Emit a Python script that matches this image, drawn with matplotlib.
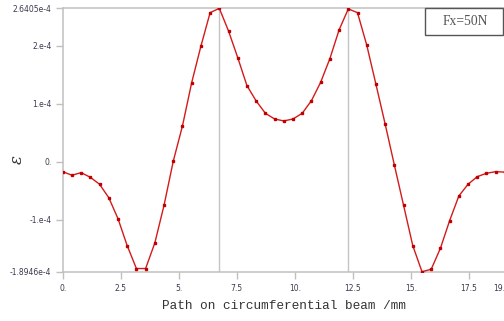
import numpy as np
import matplotlib.pyplot as plt
from matplotlib.patches import Rectangle

# path positions along the circumferential beam (mm)
path_mm = [0.0, 0.397, 0.794, 1.191, 1.588, 1.985, 2.382, 2.779, 3.176, 3.573,
           3.970, 4.367, 4.764, 5.161, 5.558, 5.955, 6.352, 6.749, 7.146, 7.543,
           7.940, 8.337, 8.734, 9.131, 9.528, 9.925, 10.322, 10.719, 11.116, 11.513,
           11.910, 12.307, 12.704, 13.101, 13.498, 13.895, 14.292, 14.689, 15.086, 15.483,
           15.880, 16.277, 16.674, 17.071, 17.468, 17.865, 18.262, 18.659, 19.056]

# strain values (x 1e-4)
strain_e4 = [-0.172, -0.234, -0.189, -0.269, -0.389, -0.620, -0.981, -1.446, -1.840, -1.840,
             -1.400, -0.751, 0.007, 0.615, 1.360, 1.987, 2.565, 2.6405, 2.250, 1.791,
             1.309, 1.045, 0.833, 0.735, 0.701, 0.735, 0.833, 1.050, 1.367, 1.773,
             2.268, 2.630, 2.565, 2.009, 1.333, 0.649, -0.057, -0.751, -1.446, -1.8946,
             -1.853, -1.491, -1.016, -0.591, -0.389, -0.258, -0.200, -0.172, -0.180]

peak_idx = [17, 31]

y_ticks = [2.6405e-4, 2e-4, 1e-4, 0.0, -1e-4, -1.8946e-4]
y_labels = ['2.6405e-4', '2.e-4', '1.e-4', '0.', '-1.e-4', '-1.8946e-4']
x_ticks = [0, 2.5, 5, 7.5, 10, 12.5, 15, 17.5, 19.056]
x_labels = ['0.', '2.5', '5.', '7.5', '10.', '12.5', '15.', '17.5', '19.']

x = np.array(path_mm)
y = np.array(strain_e4) * 1e-4

W, H = 504, 321
fig = plt.figure(figsize=(W / 100, H / 100), dpi=100)
ax = fig.add_axes([62.7 / W, 49.3 / H, (504.9 - 62.7) / W, (271.7 - 8.3) / H])

for i in peak_idx:
    ax.axvline(x[i], color='#c4c4c4', lw=1.0, zorder=1)

ax.plot(x, y, color='#d41a1a', lw=1.0, marker='s', ms=2.0, mec='#c00000', mfc='#c00000', zorder=3)

ax.set_xlim(0, 19.056)
ax.set_ylim(-1.8946e-4, 2.6405e-4)

ax.set_yticks(y_ticks)
ax.set_yticklabels(y_labels)
ax.set_xticks(x_ticks)
ax.set_xticklabels(x_labels)
ax.get_xticklabels()[-1].set_horizontalalignment('right')

for s in ['left', 'bottom', 'top']:
    ax.spines[s].set_color('#c0c0c0')
    ax.spines[s].set_linewidth(1.1)
ax.spines['right'].set_visible(False)

ax.tick_params(axis='both', colors='#c0c0c0', length=5, width=1.0, labelsize=5.5,
               labelcolor='#3a3a4e')
ax.tick_params(axis='x', pad=4)
ax.tick_params(axis='y', pad=3)

ax.set_xlabel('Path on circumferential beam /mm', family='Liberation Mono',
              fontsize=9.2, color='#333333', labelpad=5)

# y label (epsilon), rotated like the reference
fig.text(17 / W, 1 - 160 / H, 'ε', family='DejaVu Serif', style='italic', fontsize=12,
         color='#333333', rotation=90, ha='center', va='center')

# load case box
fig.add_artist(Rectangle((425 / W, 1 - 35 / H), 78 / W, 27 / H, transform=fig.transFigure,
                         fc='white', ec='#555555', lw=1.0, zorder=5))
fig.text(465 / W, 1 - 21.5 / H, 'Fx=50N', family='Liberation Serif', fontsize=9.8,
         color='#555555', ha='center', va='center', zorder=6)

fig.savefig('out.png', dpi=100)
